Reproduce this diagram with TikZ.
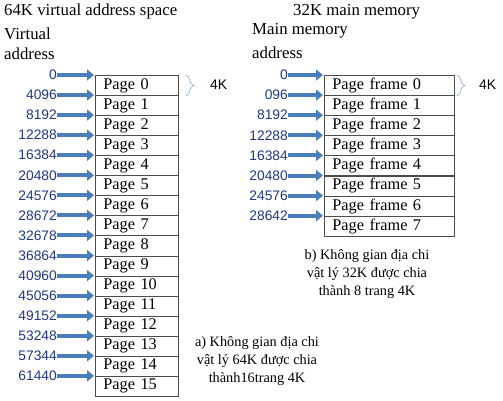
\documentclass[tikz,border=0pt]{standalone}
\usepackage{fontspec}
\setmainfont{Liberation Serif}
\setsansfont{Liberation Sans}
\usetikzlibrary{arrows.meta,decorations.pathreplacing}
\definecolor{numblue}{RGB}{32,56,130}
\definecolor{arrblue}{RGB}{74,126,187}
\definecolor{brblue}{RGB}{140,180,225}
\begin{document}
\begin{tikzpicture}[x=1pt,y=-1pt,
  cellL/.style={draw=black!70,line width=0.8pt,rectangle,anchor=north west,inner xsep=8pt,inner ysep=0pt,
    text width=67pt,align=left,minimum height=20.06pt,font=\fontsize{16.3}{18}\selectfont},
  cellR/.style={cellL,text width=114pt},
  numlbl/.style={anchor=east,inner sep=0pt,text=numblue,font=\sffamily\fontsize{13.8}{15}\selectfont},
  blkarrow/.style={line width=4pt,draw=arrblue,-{Triangle[width=11pt,length=7pt]},shorten >=1pt},
  ttl/.style={anchor=base west,inner sep=0pt,font=\fontsize{16.8}{19}\selectfont},
  captxt/.style={align=center,inner sep=0pt,font=\fontsize{14.3}{18}\selectfont},
  kklbl/.style={anchor=west,inner sep=0pt,font=\sffamily\fontsize{13.9}{15}\selectfont},
  bracestyle/.style={draw=brblue,line width=0.7pt,decorate,decoration={brace,amplitude=8pt,aspect=0.5}}]
\useasboundingbox (0,0) rectangle (503,401);
\fill[white] (0,0) rectangle (503,401);
% titles
\node[ttl] (t1) at (4,15.7) {64K virtual address space};
\node[ttl] (t2) at (4,40) {Virtual};
\node[ttl] (t3) at (4,60) {address};
\node[ttl] (t4) at (293,15.7) {32K main memory};
\node[ttl] (t5) at (252,35) {Main memory};
\node[ttl] (t6) at (252,58.3) {address};
% left table
\foreach \i/\a in {0/0,1/4096,2/8192,3/12288,4/16384,5/20480,6/24576,7/28672,8/32678,9/36864,10/40960,11/45056,12/49152,13/53248,14/57344,15/61440}{
  \node[cellL] (p\i) at (95,75+20.06*\i) {Page \i};
  \node[numlbl] (n\i) at (57,75+20.06*\i) {\a};
  \draw[blkarrow] (n\i.east) -- (p\i.north west);
}
% right table
\foreach \i/\a in {0/0,1/096,2/8192,3/12288,4/16384,5/20480,6/24576,7/28642}{
  \node[cellR] (f\i) at (324,75+20.1*\i) {Page frame \i};
  \node[numlbl] (m\i) at (288,75+20.1*\i) {\a};
  \draw[blkarrow] (m\i.east) -- (f\i.north west);
}
% braces
\draw[bracestyle] ([xshift=7pt]p0.north east) -- ([xshift=7pt]p0.south east);
\draw[bracestyle] ([xshift=2pt]f0.north east) -- ([xshift=2pt]f0.south east);
\node[kklbl] (k1) at (210,85) {4K};
\node[kklbl] (k2) at (479,85) {4K};
% captions
\node[captxt] (cb) at (367,274) {b) Không gian địa chi\\vật lý 32K được chia\\thành 8 trang 4K};
\node[captxt] (ca) at (257,361) {a) Không gian địa chi\\vật lý 64K được chia\\thành16trang 4K};
\end{tikzpicture}
\end{document}
